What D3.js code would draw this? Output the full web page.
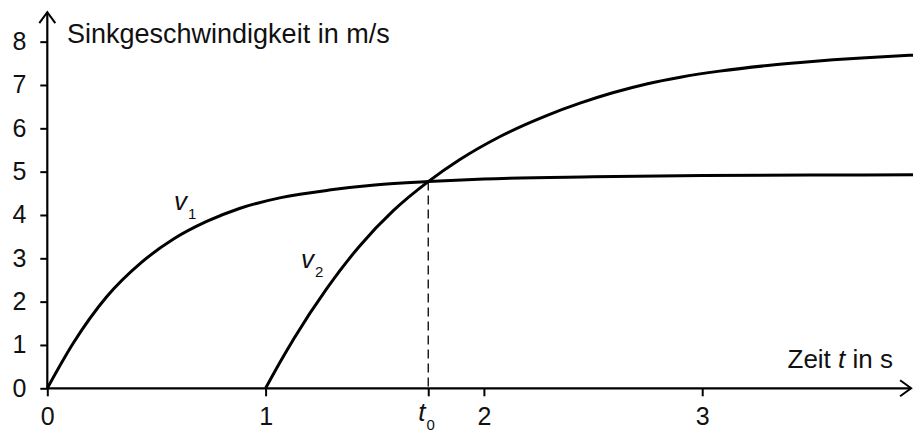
<!DOCTYPE html>
<html>
<head>
<meta charset="utf-8">
<script src="https://cdn.jsdelivr.net/npm/d3@7"></script>
<style>
	body { margin: 0; background: #fff; }
	svg { display: block; }
	text { font-family: "Liberation Sans", Arial, sans-serif; fill: #111; }
</style>
</head>
<body>
<script>
// sink speed v1 (starts at t=0)
var tV1 = [0, 0.12, 0.27, 0.43, 0.58, 0.73, 0.88, 1.07, 1.3, 1.5, 1.745, 2.0, 2.5, 3.0, 3.5, 3.97];
var v1 = [0, 1.05, 2.1, 2.9, 3.45, 3.85, 4.15, 4.4, 4.58, 4.69, 4.77, 4.83, 4.88, 4.91, 4.92, 4.93];

// sink speed v2 (starts at t=1)
var tV2 = [1, 1.066, 1.13, 1.28, 1.43, 1.585, 1.745, 1.89, 2.07, 2.29, 2.44, 2.59, 2.75, 2.9, 3.08, 3.3, 3.45, 3.6, 3.75, 3.97];
var v2 = [0, 0.6, 1.15, 2.3, 3.28, 4.1, 4.77, 5.28, 5.8, 6.3, 6.58, 6.82, 7.03, 7.18, 7.32, 7.45, 7.52, 7.58, 7.63, 7.69];

// tick labels
var xTicks = [0, 1, 2, 3];
var yTicks = [0, 1, 2, 3, 4, 5, 6, 7, 8];
var t0 = 1.745;

var width = 913, height = 432;

var svg = d3.select("body").append("svg")
	.attr("width", width).attr("height", height);

var x = d3.scaleLinear().domain([0, 4]).range([47.3, 47.3 + 4 * 218.3]);
var y = d3.scaleLinear().domain([0, 8]).range([388.3, 388.3 - 8 * 43.33]);

// where the arrow tips sit, in data units
var xEnd = 3.957, yEnd = 8.68;

// y axis: ticks and labels only, the line is drawn below
var gy = svg.append("g")
	.attr("transform", "translate(" + x(0) + ",0)")
	.call(d3.axisLeft(y).tickValues(yTicks).tickSize(7).tickSizeOuter(0).tickPadding(14));
gy.select(".domain").remove();
gy.selectAll("line").attr("stroke", "#000").attr("stroke-width", 2);
gy.selectAll("text").attr("font-size", 25).attr("font-family", null);

// x axis
var gx = svg.append("g")
	.attr("transform", "translate(0," + y(0) + ")")
	.call(d3.axisBottom(x).tickValues(xTicks.concat([t0])).tickSize(8).tickSizeOuter(0).tickPadding(11)
		.tickFormat(function(d) { return d === t0 ? "" : d; }));
gx.select(".domain").remove();
gx.selectAll("line").attr("stroke", "#000").attr("stroke-width", 2);
gx.selectAll("text").attr("font-size", 25).attr("font-family", null);

// axis lines with open arrow heads
svg.append("line")
	.attr("x1", x(0)).attr("y1", y(0)).attr("x2", x(0)).attr("y2", y(yEnd))
	.attr("stroke", "#000").attr("stroke-width", 2.2);
svg.append("line")
	.attr("x1", x(0)).attr("y1", y(0)).attr("x2", x(xEnd)).attr("y2", y(0))
	.attr("stroke", "#000").attr("stroke-width", 2.2);
svg.append("polyline")
	.attr("points", [[x(0) - 8, y(yEnd) + 11], [x(0), y(yEnd)], [x(0) + 8, y(yEnd) + 11]].join(" "))
	.attr("fill", "none").attr("stroke", "#000").attr("stroke-width", 2);
svg.append("polyline")
	.attr("points", [[x(xEnd) - 11, y(0) - 8], [x(xEnd), y(0)], [x(xEnd) - 11, y(0) + 8]].join(" "))
	.attr("fill", "none").attr("stroke", "#000").attr("stroke-width", 2);

// dashed marker at t0
svg.append("line")
	.attr("x1", x(t0)).attr("x2", x(t0))
	.attr("y1", y(4.77)).attr("y2", y(0))
	.attr("stroke", "#000").attr("stroke-width", 1.3)
	.attr("stroke-dasharray", "9,5");

// the two curves
var line = d3.line()
	.x(function(d) { return x(d[0]); })
	.y(function(d) { return y(d[1]); })
	.curve(d3.curveMonotoneX);

svg.append("path")
	.datum(d3.zip(tV1, v1))
	.attr("d", line)
	.attr("fill", "none").attr("stroke", "#000").attr("stroke-width", 3);
svg.append("path")
	.datum(d3.zip(tV2, v2))
	.attr("d", line)
	.attr("fill", "none").attr("stroke", "#000").attr("stroke-width", 3);

// axis titles
svg.append("text")
	.attr("x", 67).attr("y", 43)
	.attr("font-size", 27)
	.text("Sinkgeschwindigkeit in m/s");

var xt = svg.append("text")
	.attr("x", 893).attr("y", 368)
	.attr("text-anchor", "end")
	.attr("font-size", 26);
xt.append("tspan").text("Zeit ");
xt.append("tspan").attr("font-style", "italic").text("t");
xt.append("tspan").text(" in s");

// curve names and t0 with subscripts
function subLabel(px, py, main, sub) {
	var t = svg.append("text").attr("x", px).attr("y", py).attr("font-size", 26);
	t.append("tspan").attr("font-style", "italic").text(main);
	t.append("tspan").attr("font-size", 15).attr("dx", 1).attr("dy", 9).text(sub);
}
subLabel(174, 210, "v", "1");
subLabel(301, 268, "v", "2");
subLabel(x(t0) - 10, 421, "t", "0");
</script>
</body>
</html>
